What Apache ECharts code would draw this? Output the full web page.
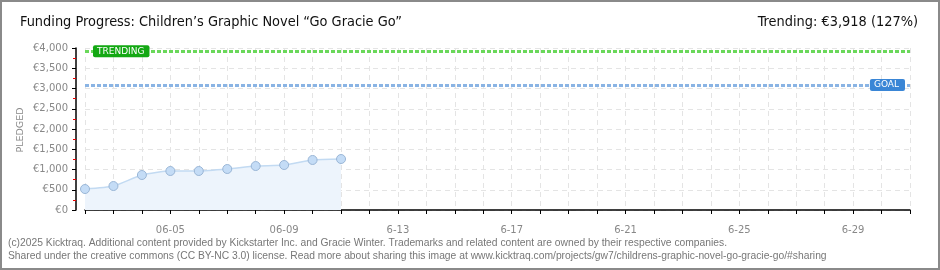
<!DOCTYPE html>
<html><head><meta charset="utf-8">
<script src="https://cdn.jsdelivr.net/npm/echarts@6/dist/echarts.min.js"></script>
<style>html,body{margin:0;padding:0;background:#fff}#c{width:940px;height:270px}</style>
</head><body><div id="c"></div>
<script>
const titleText = 'Funding Progress: Children\u2019s Graphic Novel \u201cGo Gracie Go\u201d';
const trendingText = 'Trending: \u20ac3,918 (127%)';
const yAxisName = 'PLEDGED';
const footer1 = '(c)2025 Kicktraq. Additional content provided by Kickstarter Inc. and Gracie Winter. Trademarks and related content are owned by their respective companies.';
const footer2 = 'Shared under the creative commons (CC BY-NC 3.0) license. Read more about sharing this image at www.kicktraq.com/projects/gw7/childrens-graphic-novel-go-gracie-go/#sharing';
const categories = ['06-02','06-03','06-04','06-05','06-06','06-07','06-08','06-09','6-10','6-11','6-12','6-13','6-14','6-15','6-16','6-17','6-18','6-19','6-20','6-21','6-22','6-23','6-24','6-25','6-26','6-27','6-28','6-29','6-30','7-1'];
const pledged = [518, 592, 864, 963, 963, 1012, 1086, 1111, 1235, 1259];
const goal = 3085;
const trending = 3918;
const yTicks = {min: 0, max: 4000, interval: 500};

const chart = echarts.init(document.getElementById('c'));
const fmt = v => '\u20ac' + v.toLocaleString('en-US');
const condensed = '"DejaVu Sans Condensed", "Liberation Sans Narrow", "Roboto Condensed", sans-serif';
chart.setOption({
  animation: false,
  grid: {left: 85, right: 30, top: 48, bottom: 60},
  graphic: [
    {type: 'rect', shape: {x: 1, y: 1, width: 938, height: 268}, style: {fill: 'none', stroke: '#8a8a8a', lineWidth: 2}},
    {type: 'text', left: 20, top: 15, style: {text: titleText, font: '14.4px ' + condensed, fill: '#111'}},
    {type: 'text', right: 22, top: 15, style: {text: trendingText, font: '14.4px ' + condensed, fill: '#111'}},
    {type: 'text', x: 21, y: 130, rotation: Math.PI / 2, style: {text: yAxisName, font: '9.5px "DejaVu Sans"', fill: '#888', align: 'center', verticalAlign: 'middle'}},
    {type: 'text', left: 8, top: 238, style: {text: footer1, font: '10.3px "Liberation Sans"', fill: '#777'}},
    {type: 'text', left: 8, top: 251, style: {text: footer2, font: '10.3px "Liberation Sans"', fill: '#777'}}
  ],
  xAxis: {
    type: 'category', data: categories, boundaryGap: false, offset: 10,
    axisLine: {lineStyle: {color: '#000', width: 1.5}},
    axisTick: {interval: 0, length: 4, lineStyle: {color: '#000'}},
    axisLabel: {interval: i => i % 4 === 3, color: '#888', fontFamily: 'DejaVu Sans', fontSize: 10, margin: 5},
    splitLine: {show: true, interval: 0, lineStyle: {color: '#e4e4e4', type: [5, 4]}}
  },
  yAxis: {
    type: 'value', min: yTicks.min, max: yTicks.max, interval: yTicks.interval, offset: 9,
    axisLine: {show: true, lineStyle: {color: '#000', width: 1.5}},
    axisTick: {show: true, length: 4, lineStyle: {color: '#000'}},
    minorTick: {show: true, splitNumber: 2, length: 3, lineStyle: {color: '#e00'}},
    axisLabel: {formatter: fmt, color: '#888', fontFamily: 'DejaVu Sans', fontSize: 10, margin: 8},
    splitLine: {lineStyle: {color: '#e4e4e4', type: [5, 4]}}
  },
  series: [{
    type: 'line', data: pledged, smooth: 0.2,
    symbol: 'circle', symbolSize: 9,
    itemStyle: {color: '#c4dcf6', borderColor: '#9ab6d6', borderWidth: 1},
    lineStyle: {color: '#c2daf2', width: 1.5},
    areaStyle: {color: '#edf4fc', opacity: 1},
    markLine: {
      silent: true, symbol: 'none',
      data: [
        {yAxis: trending, lineStyle: {color: '#6ad85a', width: 3, type: [4, 2]},
         label: {show: true, position: 'insideStart', distance: 8, formatter: 'TRENDING', color: '#fff', backgroundColor: '#13a813', borderRadius: 2, padding: [2, 5, 1, 4], fontFamily: 'DejaVu Sans', fontSize: 9}},
        {yAxis: goal, lineStyle: {color: '#8ab4e4', width: 3, type: [4, 2]},
         label: {show: true, position: 'insideEnd', distance: 5, formatter: 'GOAL', color: '#fff', backgroundColor: '#3a86d6', borderRadius: 2, padding: [2, 6, 1, 4], fontFamily: 'DejaVu Sans', fontSize: 9}}
      ]
    }
  }]
});
</script></body></html>
